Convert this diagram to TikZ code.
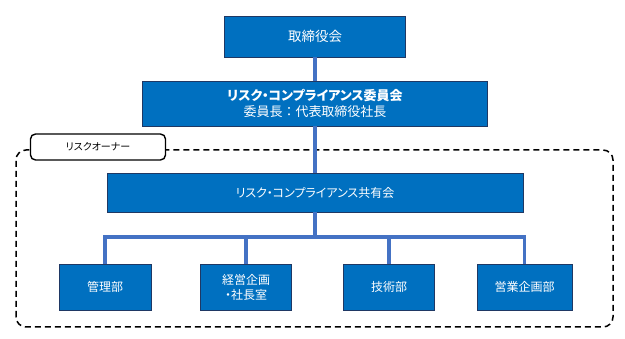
\documentclass[tikz,border=0pt]{standalone}
\usepackage{fontspec}
\setmainfont{Noto Sans CJK JP}[RawFeature=+palt]
\newfontfamily\fullwidthfont{Noto Sans CJK JP}
\definecolor{boxblue}{HTML}{0070C0}
\definecolor{boxline}{HTML}{1F3864}
\definecolor{linkblue}{HTML}{4472C4}

\begin{document}
\begin{tikzpicture}[x=1pt, y=1pt,
  orgbox/.style={draw=boxline, line width=0.8pt, fill=boxblue, text=white,
    inner sep=0pt, align=center, font=\fontsize{12}{15}\selectfont},
  link/.style={draw=linkblue, line width=3.6pt},
  ownertag/.style={draw=black, line width=1.4pt, fill=white,
    rounded corners=5pt, inner sep=0pt, font=\fontsize{10}{12}\selectfont}]
  \useasboundingbox (0,0) rectangle (625,339);
  % --- Dashed frame of the risk owners ---
  \draw[dash pattern=on 6pt off 4pt, line width=1.5pt, rounded corners=10pt]
    (16,12) rectangle (613,189);
  \node[ownertag, minimum width=135pt, minimum height=26pt]
    (owner) at (98,192) {リスクオーナー};
  % --- Top: board and committee ---
  \node[orgbox, minimum width=181pt, minimum height=41pt,
    font=\fontsize{13.5}{16}\selectfont] (board) at (315,302.5) {取締役会};
  \node[orgbox, minimum width=345pt, minimum height=45pt,
    font=\fontsize{13}{16}\selectfont] (committee) at (315,235.5)
    {\textbf{リスク・コンプライアンス委員会}\\
     {\fullwidthfont 委員長：}代表取締役社長};
  % --- Middle: shared meeting ---
  \node[orgbox, minimum width=416pt, minimum height=39pt] (share)
    at (315,146.5) {リスク・コンプライアンス共有会};
  % --- Bottom: departments ---
  \node[orgbox, minimum width=92pt, minimum height=46pt] (kanri)
    at (105,52) {管理部};
  \node[orgbox, minimum width=91pt, minimum height=46pt] (keiei)
    at (246,51.5) {経営企画\\・社長室};
  \node[orgbox, minimum width=91pt, minimum height=46pt] (gijutsu)
    at (389,52) {技術部};
  \node[orgbox, minimum width=95pt, minimum height=46pt] (eigyo)
    at (524.5,52) {営業企画部};
  % --- Connectors ---
  \draw[link] (board.south) -- (committee.north);
  \draw[link] (committee.south) -- (share.north);
  \coordinate (bus) at (315,102);
  \draw[link] (share.south) -- (bus);
  \foreach \dept in {kanri, keiei, gijutsu, eigyo}
    \draw[link] (bus) -| (\dept.north);
\end{tikzpicture}
\end{document}
